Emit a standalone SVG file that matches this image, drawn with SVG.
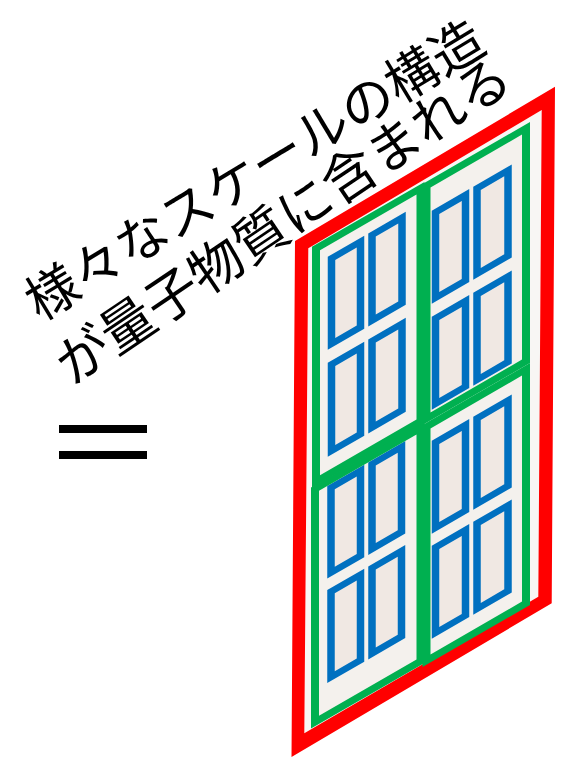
<svg xmlns="http://www.w3.org/2000/svg" width="568" height="760" viewBox="0 0 568 760">
  <style>
    .caption { font-family: "Noto Sans CJK JP", "Noto Sans", sans-serif; fill: #000000; }
    .panel { fill: #F4F1ED; stroke: none; }
    .frame { fill: none; stroke: #00B050; stroke-width: 8; }
    .cell { fill: #F0E8E3; stroke: #0070C0; stroke-width: 7.5; }
  </style>

  <!-- caption, two rotated lines -->
  <g id="caption">
    <text class="caption" font-size="52.5" transform="translate(39.8,322) rotate(-31.2)">様々なスケールの構造</text>
    <text class="caption" font-size="53.5" transform="translate(72,386) rotate(-34)">が量子物質に含まれる</text>
  </g>

  <!-- equals sign -->
  <g id="equals">
    <rect x="59" y="425" width="88" height="8" fill="#000000"/>
    <rect x="59" y="451" width="88" height="8" fill="#000000"/>
  </g>

  <!-- outer red frame -->
  <g id="outer-frame">
    <polygon points="308.3,248.3 541.7,110 538.3,596.7 304.3,733.3" fill="#F8F6F4"/>
    <path d="M295,241 L555,86.7 L551.7,603.3 L291.5,757 Z M308.3,248.3 L304.3,733.3 L538.3,596.7 L541.7,110 Z" fill="#FF0000" fill-rule="evenodd"/>
  </g>

  <!-- four panels, drawn flat and sheared -->
  <g id="panels" transform="matrix(1,-0.57735,0,1,0,0)">
    <g id="panel-top-left">
      <rect class="panel" x="316" y="431" width="104.5" height="233"/>
      <rect class="cell" x="331.5" y="449.75" width="29" height="85.5"/>
      <rect class="cell" x="372" y="449.75" width="30" height="85.5"/>
      <rect class="cell" x="331.5" y="555.75" width="29" height="86.5"/>
      <rect class="cell" x="372" y="555.75" width="30" height="86.5"/>
      <rect class="frame" x="316" y="431" width="104.5" height="233"/>
    </g>
    <g id="panel-top-right">
      <rect class="panel" x="426.5" y="432" width="99.5" height="233"/>
      <rect class="cell" x="435.5" y="463.75" width="30" height="85.5"/>
      <rect class="cell" x="477" y="463.75" width="31" height="85.5"/>
      <rect class="cell" x="435.5" y="569.75" width="30" height="85.5"/>
      <rect class="cell" x="477" y="569.75" width="31" height="85.5"/>
      <rect class="frame" x="426.5" y="432" width="99.5" height="233"/>
    </g>
    <g id="panel-bottom-left">
      <rect class="panel" x="315" y="671" width="105.5" height="233"/>
      <rect class="cell" x="331" y="678.75" width="29.5" height="85"/>
      <rect class="cell" x="372" y="678.75" width="29.5" height="85"/>
      <rect class="cell" x="331" y="782.75" width="29.5" height="85.5"/>
      <rect class="cell" x="372" y="782.75" width="29.5" height="85.5"/>
      <rect class="frame" x="315" y="671" width="105.5" height="233"/>
    </g>
    <g id="panel-bottom-right">
      <rect class="panel" x="426.5" y="673" width="99.5" height="234"/>
      <rect class="cell" x="435.5" y="693.75" width="30" height="85.5"/>
      <rect class="cell" x="477" y="693.75" width="31" height="85.5"/>
      <rect class="cell" x="435.5" y="798.75" width="30" height="85.5"/>
      <rect class="cell" x="477" y="798.75" width="31" height="85.5"/>
      <rect class="frame" x="426.5" y="673" width="99.5" height="234"/>
    </g>
  </g>
</svg>
